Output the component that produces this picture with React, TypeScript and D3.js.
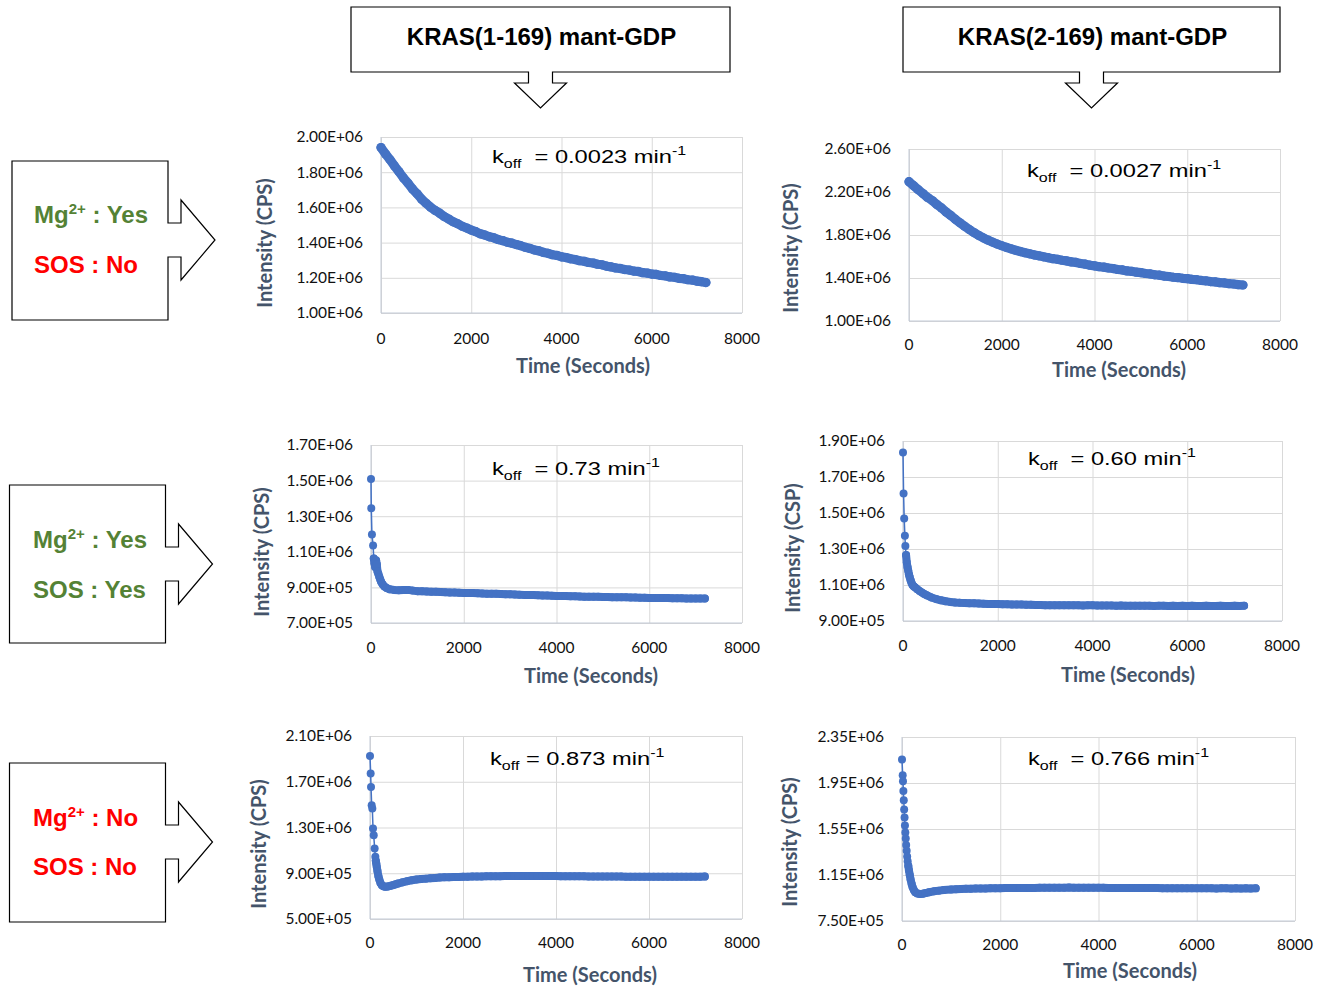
import * as d3 from "d3"
import { useEffect, useRef } from "react"

// time grid in seconds
const fullTime = [
  0, 100, 200, 300, 400, 500, 600, 700, 800, 900,
  1000, 1100, 1200, 1300, 1400, 1500, 1600, 1700, 1800, 1900,
  2000, 2100, 2200, 2300, 2400, 2500, 2600, 2700, 2800, 2900,
  3000, 3100, 3200, 3300, 3400, 3500, 3600, 3700, 3800, 3900,
  4000, 4100, 4200, 4300, 4400, 4500, 4600, 4700, 4800, 4900,
  5000, 5100, 5200, 5300, 5400, 5500, 5600, 5700, 5800, 5900,
  6000, 6100, 6200, 6300, 6400, 6500, 6600, 6700, 6800, 6900,
  7000, 7100, 7200,
]
const lateTime = [
  1100, 1200, 1300, 1400, 1500, 1600, 1700, 1800, 1900, 2000,
  2100, 2200, 2300, 2400, 2500, 2600, 2700, 2800, 2900, 3000,
  3100, 3200, 3300, 3400, 3500, 3600, 3700, 3800, 3900, 4000,
  4100, 4200, 4300, 4400, 4500, 4600, 4700, 4800, 4900, 5000,
  5100, 5200, 5300, 5400, 5500, 5600, 5700, 5800, 5900, 6000,
  6100, 6200, 6300, 6400, 6500, 6600, 6700, 6800, 6900, 7000,
  7100, 7200,
]
const xTicks = [0, 2000, 4000, 6000, 8000]

// intensities in millions of CPS
// KRAS(1-169), Mg yes / SOS no
const k1MgSosNo = [
  1.940, 1.904, 1.871, 1.835, 1.802, 1.767, 1.737, 1.704, 1.677, 1.647,
  1.623, 1.601, 1.583, 1.567, 1.548, 1.534, 1.518, 1.507, 1.493, 1.483,
  1.471, 1.462, 1.450, 1.443, 1.433, 1.427, 1.417, 1.411, 1.402, 1.397,
  1.389, 1.382, 1.373, 1.367, 1.358, 1.353, 1.344, 1.339, 1.331, 1.327,
  1.319, 1.315, 1.308, 1.304, 1.297, 1.294, 1.287, 1.284, 1.277, 1.274,
  1.266, 1.262, 1.256, 1.253, 1.247, 1.244, 1.238, 1.236, 1.229, 1.227,
  1.221, 1.219, 1.213, 1.211, 1.205, 1.203, 1.197, 1.195, 1.189, 1.187,
  1.181, 1.178, 1.173,
]
// KRAS(2-169), Mg yes / SOS no
const k2MgSosNo = [
  2.296, 2.259, 2.221, 2.186, 2.149, 2.121, 2.084, 2.052, 2.014, 1.982,
  1.946, 1.913, 1.881, 1.851, 1.823, 1.797, 1.774, 1.753, 1.734, 1.716,
  1.700, 1.685, 1.671, 1.658, 1.646, 1.635, 1.625, 1.615, 1.606, 1.597,
  1.589, 1.580, 1.574, 1.565, 1.559, 1.550, 1.545, 1.535, 1.529, 1.519,
  1.513, 1.505, 1.501, 1.493, 1.488, 1.479, 1.475, 1.466, 1.462, 1.454,
  1.450, 1.442, 1.438, 1.430, 1.426, 1.418, 1.414, 1.407, 1.404, 1.397,
  1.394, 1.387, 1.384, 1.377, 1.374, 1.367, 1.364, 1.357, 1.354, 1.347,
  1.344, 1.338, 1.335,
]

// KRAS(1-169), Mg yes / SOS yes
const k1MgSosYesEarlyT = [0, 6, 20, 45, 60, 75, 90, 110, 125, 140, 160, 180, 200, 220, 250, 290, 340, 400, 500, 600, 700, 800, 900, 1000]
const k1MgSosYesEarly = [1.509, 1.344, 1.197, 1.136, 1.062, 1.035, 1.015, 1.052, 1.030, 0.990, 0.975, 0.958, 0.944, 0.930, 0.917, 0.905, 0.896, 0.890, 0.886, 0.884, 0.885, 0.886, 0.882, 0.879]
const k1MgSosYesLate = [
  0.878, 0.877, 0.876, 0.875, 0.874, 0.873, 0.872, 0.871, 0.870, 0.869,
  0.868, 0.868, 0.867, 0.866, 0.865, 0.864, 0.864, 0.863, 0.862, 0.861,
  0.860, 0.859, 0.858, 0.858, 0.857, 0.856, 0.855, 0.854, 0.853, 0.852,
  0.852, 0.851, 0.850, 0.850, 0.849, 0.848, 0.848, 0.847, 0.847, 0.846,
  0.846, 0.845, 0.845, 0.844, 0.844, 0.843, 0.843, 0.842, 0.842, 0.841,
  0.841, 0.840, 0.840, 0.840, 0.839, 0.839, 0.839, 0.838, 0.838, 0.838,
  0.837, 0.837,
]

// KRAS(2-169), Mg yes / SOS yes
const k2MgSosYesEarlyT = [0, 12, 25, 40, 50, 65, 80, 95, 110, 125, 140, 160, 180, 200, 225, 250, 300, 350, 400, 450, 500, 600, 700, 800, 900, 1000]
const k2MgSosYesEarly = [1.836, 1.608, 1.470, 1.374, 1.316, 1.266, 1.225, 1.200, 1.180, 1.160, 1.145, 1.127, 1.112, 1.100, 1.093, 1.088, 1.077, 1.067, 1.058, 1.050, 1.043, 1.031, 1.022, 1.015, 1.010, 1.006]
const k2MgSosYesLate = [
  1.003, 1.001, 1.000, 0.999, 0.998, 0.997, 0.996, 0.995, 0.995, 0.994,
  0.993, 0.993, 0.992, 0.992, 0.991, 0.990, 0.990, 0.989, 0.989, 0.988,
  0.988, 0.988, 0.987, 0.987, 0.987, 0.987, 0.987, 0.986, 0.987, 0.987,
  0.986, 0.986, 0.986, 0.986, 0.985, 0.986, 0.985, 0.985, 0.985, 0.985,
  0.985, 0.985, 0.984, 0.985, 0.985, 0.984, 0.985, 0.984, 0.985, 0.984,
  0.985, 0.984, 0.984, 0.985, 0.984, 0.984, 0.985, 0.984, 0.984, 0.985,
  0.984, 0.985,
]

// KRAS(1-169), Mg no / SOS no
const k1MgNoEarlyT = [0, 14, 22, 36, 50, 65, 80, 100, 115, 125, 135, 145, 160, 180, 200, 225, 255, 290, 330, 380, 430, 490, 550, 600, 700, 800, 900, 1000]
const k1MgNoEarly = [1.925, 1.772, 1.655, 1.495, 1.466, 1.292, 1.233, 1.117, 1.044, 1.010, 0.985, 0.957, 0.920, 0.875, 0.845, 0.815, 0.795, 0.786, 0.782, 0.784, 0.789, 0.796, 0.803, 0.810, 0.821, 0.831, 0.839, 0.845]
const k1MgNoLate = [
  0.849, 0.853, 0.856, 0.859, 0.862, 0.864, 0.866, 0.867, 0.868, 0.869,
  0.870, 0.871, 0.872, 0.872, 0.873, 0.873, 0.874, 0.874, 0.875, 0.875,
  0.875, 0.876, 0.876, 0.876, 0.876, 0.876, 0.875, 0.875, 0.875, 0.875,
  0.874, 0.874, 0.874, 0.873, 0.873, 0.873, 0.872, 0.872, 0.872, 0.872,
  0.871, 0.871, 0.871, 0.871, 0.870, 0.870, 0.870, 0.870, 0.870, 0.869,
  0.870, 0.869, 0.869, 0.870, 0.869, 0.869, 0.870, 0.869, 0.870, 0.870,
  0.870, 0.871,
]

// KRAS(2-169), Mg no / SOS no
const k2MgNoEarlyT = [0, 14, 20, 28, 36, 44, 52, 60, 68, 76, 85, 95, 105, 115, 128, 142, 158, 175, 195, 215, 240, 270, 310, 360, 420, 480, 550, 650, 750, 850, 1000]
const k2MgNoEarly = [2.154, 2.017, 1.965, 1.881, 1.800, 1.720, 1.650, 1.580, 1.520, 1.468, 1.410, 1.360, 1.310, 1.270, 1.230, 1.190, 1.150, 1.110, 1.075, 1.045, 1.020, 1.000, 0.990, 0.985, 0.987, 0.993, 1.000, 1.008, 1.014, 1.019, 1.024]
const k2MgNoLate = [
  1.027, 1.029, 1.030, 1.031, 1.032, 1.033, 1.033, 1.034, 1.034, 1.035,
  1.036, 1.036, 1.037, 1.037, 1.038, 1.038, 1.038, 1.039, 1.039, 1.039,
  1.040, 1.040, 1.040, 1.041, 1.040, 1.040, 1.040, 1.039, 1.039, 1.039,
  1.039, 1.038, 1.038, 1.038, 1.037, 1.037, 1.037, 1.037, 1.036, 1.036,
  1.036, 1.036, 1.035, 1.035, 1.035, 1.035, 1.035, 1.034, 1.035, 1.034,
  1.034, 1.034, 1.034, 1.033, 1.034, 1.034, 1.033, 1.034, 1.033, 1.034,
  1.033, 1.034,
]

// y tick values, millions
const yTicks1 = [1.0, 1.2, 1.4, 1.6, 1.8, 2.0]
const yTicks2 = [1.0, 1.4, 1.8, 2.2, 2.6]
const yTicks3 = [0.7, 0.9, 1.1, 1.3, 1.5, 1.7]
const yTicks4 = [0.9, 1.1, 1.3, 1.5, 1.7, 1.9]
const yTicks5 = [0.5, 0.9, 1.3, 1.7, 2.1]
const yTicks6 = [0.75, 1.15, 1.55, 1.95, 2.35]

const headers = ["KRAS(1-169) mant-GDP", "KRAS(2-169) mant-GDP"]
const koffValues = ["0.0023", "0.0027", "0.73", "0.60", "0.873", "0.766"]
const rowLabels = [
  { mg: "Yes", sos: "No" },
  { mg: "Yes", sos: "Yes" },
  { mg: "No", sos: "No" },
]

const BLUE = "#4472C4"
const GRID = "#D9D9D9"
const AXIS = "#C3CAD6"
const TITLE = "#44546A"
const GREEN = "#548235"
const RED = "#FF0000"
const calibri = "Lato, Carlito, 'Open Sans', sans-serif"
const arial = "'Liberation Sans', Arial, Helvetica, sans-serif"

// bandFrom: time from which the markers merge into a solid band
const panels = [
  {
    time: fullTime, values: k1MgSosNo, yTicks: yTicks1, koff: koffValues[0], koffGap: "  ",
    left: 381, right: 742, top: 137, bottom: 313, r: 4.6, bandFrom: 0,
    yTitle: "Intensity (CPS)", yTitleX: 265, yTitleY: 243, xTitleX: 583, xTitleY: 373, xLabelDy: 31,
    koffX: 492, koffY: 163,
  },
  {
    time: fullTime, values: k2MgSosNo, yTicks: yTicks2, koff: koffValues[1], koffGap: "  ",
    left: 909, right: 1280, top: 149, bottom: 321, r: 4.6, bandFrom: 0,
    yTitle: "Intensity (CPS)", yTitleX: 791, yTitleY: 248, xTitleX: 1119, xTitleY: 377, xLabelDy: 29,
    koffX: 1027, koffY: 177,
  },
  {
    time: [...k1MgSosYesEarlyT, ...lateTime], values: [...k1MgSosYesEarly, ...k1MgSosYesLate],
    yTicks: yTicks3, koff: koffValues[2], koffGap: "  ",
    left: 371, right: 742, top: 445, bottom: 623, r: 4, bandFrom: 60,
    yTitle: "Intensity (CPS)", yTitleX: 262, yTitleY: 552, xTitleX: 591, xTitleY: 683, xLabelDy: 30,
    koffX: 492, koffY: 475,
  },
  {
    time: [...k2MgSosYesEarlyT, ...lateTime], values: [...k2MgSosYesEarly, ...k2MgSosYesLate],
    yTicks: yTicks4, koff: koffValues[3], koffGap: "  ",
    left: 903, right: 1282, top: 441, bottom: 621, r: 4, bandFrom: 65,
    yTitle: "Intensity (CSP)", yTitleX: 793, yTitleY: 548, xTitleX: 1128, xTitleY: 682, xLabelDy: 30,
    koffX: 1028, koffY: 465,
  },
  {
    time: [...k1MgNoEarlyT, ...lateTime], values: [...k1MgNoEarly, ...k1MgNoLate],
    yTicks: yTicks5, koff: koffValues[4], koffGap: " ",
    left: 370, right: 742, top: 736, bottom: 919, r: 4, bandFrom: 125,
    yTitle: "Intensity (CPS)", yTitleX: 259, yTitleY: 844, xTitleX: 590, xTitleY: 982, xLabelDy: 29,
    koffX: 490, koffY: 765,
  },
  {
    time: [...k2MgNoEarlyT, ...lateTime], values: [...k2MgNoEarly, ...k2MgNoLate],
    yTicks: yTicks6, koff: koffValues[5], koffGap: "  ",
    left: 902, right: 1295, top: 737, bottom: 921, r: 4, bandFrom: 128,
    yTitle: "Intensity (CPS)", yTitleX: 790, yTitleY: 842, xTitleX: 1130, xTitleY: 978, xLabelDy: 29,
    koffX: 1028, koffY: 765,
  },
]

// header callouts (box with a down arrow)
const headerBoxes = [
  { left: 351, right: 730, top: 7, bottom: 72 },
  { left: 903, right: 1280, top: 7, bottom: 72 },
]
// row callouts (box with a right arrow)
const rowBoxes = [
  { left: 12, right: 168, top: 161, bottom: 320, mid: 240, textX: 34, mgY: 223, sosY: 273 },
  { left: 9.5, right: 165.5, top: 485, bottom: 643, mid: 564, textX: 33, mgY: 548, sosY: 598 },
  { left: 9.5, right: 165.5, top: 763, bottom: 922, mid: 842, textX: 33, mgY: 826, sosY: 875 },
]

// Excel-style scientific labels, e.g. 2.00E+06
const excelSci = (v: number) => {
  const [m, e] = v.toExponential(2).split("e")
  const n = Math.abs(+e)
  return `${m}E${+e < 0 ? "-" : "+"}${String(n).padStart(2, "0")}`
}

const drawPanel = (svg, p) => {
  const x = d3.scaleLinear().domain([0, 8000]).range([p.left, p.right])
  const yDom = d3.extent(p.yTicks)
  const y = d3.scaleLinear().domain(yDom).range([p.bottom, p.top])
  const g = svg.append("g")

  // gridlines
  g.append("g")
    .attr("transform", `translate(0,${p.bottom})`)
    .call(d3.axisBottom(x).tickValues(xTicks).tickSize(-(p.bottom - p.top)).tickFormat(() => ""))
    .call((s) => s.select(".domain").remove())
    .selectAll("line")
    .attr("stroke", GRID)
  g.append("g")
    .attr("transform", `translate(${p.left},0)`)
    .call(d3.axisLeft(y).tickValues(p.yTicks).tickSize(-(p.right - p.left)).tickFormat(() => ""))
    .call((s) => s.select(".domain").remove())
    .selectAll("line")
    .attr("stroke", GRID)

  g.append("line").attr("x1", p.left).attr("x2", p.left).attr("y1", p.top).attr("y2", p.bottom).attr("stroke", AXIS)
  g.append("line").attr("x1", p.left).attr("x2", p.right).attr("y1", p.bottom).attr("y2", p.bottom).attr("stroke", AXIS)

  // tick labels
  g.append("g")
    .selectAll("text")
    .data(p.yTicks)
    .join("text")
    .attr("x", p.left - 18)
    .attr("y", (d) => y(d))
    .attr("dy", "0.35em")
    .attr("text-anchor", "end")
    .style("font-family", calibri)
    .style("font-size", "15.5px")
    .attr("fill", "#111")
    .text((d) => excelSci(d * 1e6))
  g.append("g")
    .selectAll("text")
    .data(xTicks)
    .join("text")
    .attr("x", (d) => x(d))
    .attr("y", p.bottom + p.xLabelDy)
    .attr("text-anchor", "middle")
    .style("font-family", calibri)
    .style("font-size", "15.5px")
    .attr("fill", "#111")
    .text((d) => d)

  // axis titles
  g.append("text")
    .attr("x", p.xTitleX)
    .attr("y", p.xTitleY)
    .attr("text-anchor", "middle")
    .style("font-family", calibri)
    .style("font-size", "20px")
    .style("font-weight", "bold")
    .attr("fill", TITLE)
    .text("Time (Seconds)")
  g.append("text")
    .attr("transform", `translate(${p.yTitleX},${p.yTitleY}) rotate(-90)`)
    .attr("text-anchor", "middle")
    .attr("dy", "0.35em")
    .style("font-family", calibri)
    .style("font-size", "20px")
    .style("font-weight", "bold")
    .attr("fill", TITLE)
    .text(p.yTitle)

  // series: thin connecting line, solid band where markers overlap, markers
  const pts = p.time.map((t, i) => ({ t, v: p.values[i] }))
  const line = d3
    .line()
    .x((d) => x(d.t))
    .y((d) => y(d.v))
  g.append("path").datum(pts).attr("fill", "none").attr("stroke", BLUE).attr("stroke-width", 1.5).attr("d", line)
  g.append("path")
    .datum(pts.filter((d) => d.t >= p.bandFrom))
    .attr("fill", "none")
    .attr("stroke", BLUE)
    .attr("stroke-width", p.r * 2)
    .attr("stroke-linecap", "round")
    .attr("stroke-linejoin", "round")
    .attr("d", line)
  g.append("g")
    .selectAll("circle")
    .data(pts)
    .join("circle")
    .attr("cx", (d) => x(d.t))
    .attr("cy", (d) => y(d.v))
    .attr("r", p.r)
    .attr("fill", BLUE)

  // k_off annotation
  const k = g
    .append("text")
    .attr("transform", `translate(${p.koffX},${p.koffY}) scale(1.28,1)`)
    .style("font-family", arial)
    .style("font-size", "18.5px")
    .style("white-space", "pre")
    .attr("fill", "#000")
  k.append("tspan").text("k")
  k.append("tspan").attr("font-size", "12.5px").attr("dy", 5).text("off")
  k.append("tspan").attr("dy", -5).text(`${p.koffGap}= ${p.koff} min`)
  k.append("tspan").attr("font-size", "12.5px").attr("dy", -8).text("-1")
}

export default function App() {
  const ref = useRef<SVGSVGElement>(null)

  useEffect(() => {
    const svg = d3.select(ref.current)
    svg.selectAll("*").remove()

    // column headers
    headerBoxes.forEach((b, i) => {
      const cx = (b.left + b.right) / 2
      const path = d3.path()
      path.moveTo(b.left, b.top)
      path.lineTo(b.right, b.top)
      path.lineTo(b.right, b.bottom)
      path.lineTo(cx + 12, b.bottom)
      path.lineTo(cx + 12, b.bottom + 11)
      path.lineTo(cx + 26, b.bottom + 11)
      path.lineTo(cx, b.bottom + 36)
      path.lineTo(cx - 26, b.bottom + 11)
      path.lineTo(cx - 12, b.bottom + 11)
      path.lineTo(cx - 12, b.bottom)
      path.lineTo(b.left, b.bottom)
      path.closePath()
      svg.append("path").attr("d", path.toString()).attr("fill", "#fff").attr("stroke", "#000").attr("stroke-width", 1.2)
      svg
        .append("text")
        .attr("x", cx + 1)
        .attr("y", 45)
        .attr("text-anchor", "middle")
        .style("font-family", arial)
        .style("font-weight", "bold")
        .style("font-size", "24px")
        .text(headers[i])
    })

    // row callouts
    rowBoxes.forEach((b, i) => {
      const path = d3.path()
      path.moveTo(b.left, b.top)
      path.lineTo(b.right, b.top)
      path.lineTo(b.right, b.mid - 17)
      path.lineTo(b.right + 13, b.mid - 17)
      path.lineTo(b.right + 13, b.mid - 40)
      path.lineTo(b.right + 47, b.mid)
      path.lineTo(b.right + 13, b.mid + 40)
      path.lineTo(b.right + 13, b.mid + 17)
      path.lineTo(b.right, b.mid + 17)
      path.lineTo(b.right, b.bottom)
      path.lineTo(b.left, b.bottom)
      path.closePath()
      svg.append("path").attr("d", path.toString()).attr("fill", "#fff").attr("stroke", "#000").attr("stroke-width", 1.2)

      const lab = rowLabels[i]
      const mg = svg
        .append("text")
        .attr("x", b.textX)
        .attr("y", b.mgY)
        .style("font-family", arial)
        .style("font-weight", "bold")
        .style("font-size", "24px")
        .style("white-space", "pre")
        .attr("fill", lab.mg === "Yes" ? GREEN : RED)
      mg.append("tspan").text("Mg")
      mg.append("tspan").attr("font-size", "15px").attr("dy", -9).text("2+")
      mg.append("tspan").attr("dy", 9).text(` : ${lab.mg}`)
      svg
        .append("text")
        .attr("x", b.textX)
        .attr("y", b.sosY)
        .style("font-family", arial)
        .style("font-weight", "bold")
        .style("font-size", "24px")
        .style("white-space", "pre")
        .attr("fill", lab.sos === "Yes" ? GREEN : RED)
        .text(`SOS : ${lab.sos}`)
    })

    panels.forEach((p) => drawPanel(svg, p))
  }, [])

  return (
    <svg
      ref={ref}
      width={1320}
      height={986}
      style={{ position: "absolute", left: 0, top: 0, background: "#fff" }}
    />
  )
}
